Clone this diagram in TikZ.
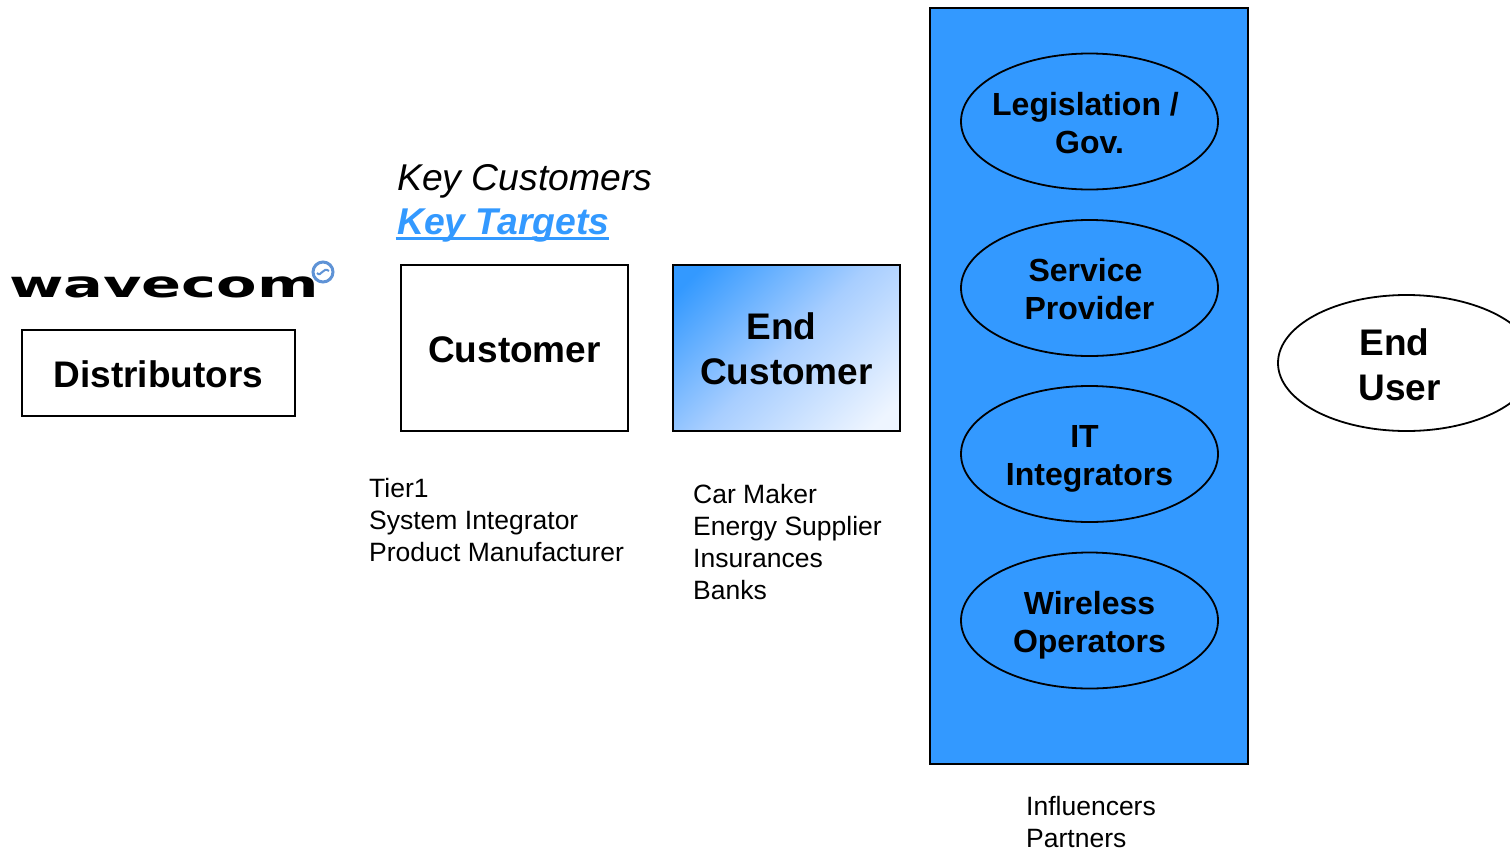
\documentclass[tikz,border=0pt]{standalone}
\usepackage{fontspec}
\setmainfont{Liberation Sans}
\usepackage{graphicx}
\usetikzlibrary{shapes.geometric}
\definecolor{wblue}{HTML}{3399FF}
\definecolor{wpale}{HTML}{EEF5FF}
\definecolor{wmid}{HTML}{A8CEFF}
\definecolor{wring}{HTML}{5F93D6}
\pgfdeclareverticalshading{wdiag}{100bp}{color(0bp)=(wpale);color(20bp)=(wpale);color(50bp)=(wmid);color(80bp)=(wblue);color(100bp)=(wblue)}
\newcommand{\fsz}[2]{\fontsize{#1pt}{#2pt}\selectfont}
\newcommand{\dn}[2]{\raisebox{-#1pt}[0pt][0pt]{\begin{tabular}{@{}c@{}}#2\end{tabular}}}
\newcommand{\ulkey}[1]{\sbox0{#1}\rlap{\kern-1.5pt\rule[-6pt]{\dimexpr\wd0+1.5pt\relax}{3pt}}\box0}
\tikzset{
  x=1pt,y=-1pt,
  bx/.style={draw=black,line width=1.8pt,rectangle,inner sep=0pt,align=center,font=\fsz{37}{45}\bfseries},
  ov/.style={draw=black,line width=1.8pt,ellipse,inner xsep=-40pt,inner ysep=-30pt,minimum width=257pt,minimum height=136pt,align=center,font=\fsz{32}{38}\bfseries},
  lbl/.style={inner sep=0pt,anchor=north west,align=left,font=\fsz{26.5}{32}},
}
\begin{document}
\begin{tikzpicture}
\useasboundingbox (0,0) rectangle (1510,849);
\node[inner sep=0pt] (logo) at (164,287) {\scalebox{1.18}[0.74]{\fontsize{50pt}{50pt}\fontspec{DejaVu Sans}\bfseries wavecom}};
\node[circle,draw=wring,line width=3pt,fill=white,minimum size=20pt,inner sep=0pt] (logomark) at (323,272) {};
\draw[wring,line width=2pt] ([shift={(-6,1)}]logomark.center) .. controls ([shift={(-2,6)}]logomark.center) and ([shift={(0,-6)}]logomark.center) .. ([shift={(6,-1)}]logomark.center);
\node[bx,minimum width=273pt,minimum height=86pt] (dist) at (158.5,373) {\dn{11.25}{Distributors}};
\node[inner sep=0pt,anchor=north west,align=left,font=\fsz{37.3}{44}\itshape] (key) at (397,164) {Key Customers\\{\bfseries\color{wblue}\ulkey{Key Targets}}};
\node[bx,minimum width=227pt,minimum height=166pt] (cust) at (514.5,348) {\dn{11.25}{Customer}};
\node[bx,minimum width=227pt,minimum height=166pt,shading=wdiag,shading angle=45] (endc) at (786.5,348) {\dn{11.25}{End\hspace*{10pt}\\Customer}};
\node[lbl] (tier) at (369,478) {Tier1\\System Integrator\\Product Manufacturer};
\node[lbl] (car) at (693,484) {Car Maker\\Energy Supplier\\Insurances\\Banks};
\node[draw=black,line width=1.8pt,fill=wblue,rectangle,inner sep=0pt,minimum width=318pt,minimum height=756pt] (infl) at (1089,386) {};
\node[ov,fill=wblue] (leg) at (1089.5,121.5) {\dn{12}{Legislation /\hspace*{8pt}\\Gov.}};
\node[ov,fill=wblue] (serv) at (1089.5,288) {\dn{11}{Service\hspace*{8pt}\\Provider}};
\node[ov,fill=wblue] (it) at (1089.5,454) {\dn{11}{IT\hspace*{10pt}\\Integrators}};
\node[ov,fill=wblue] (wire) at (1089.5,620.5) {\dn{12}{Wireless\\Operators}};
\node[lbl] (part) at (1026,796) {Influencers\\Partners};
\node[ov,font=\fsz{37}{45}\bfseries] (user) at (1406.5,363) {\dn{12.25}{End\hspace*{24pt}\\User\hspace*{14pt}}};
\end{tikzpicture}
\end{document}
